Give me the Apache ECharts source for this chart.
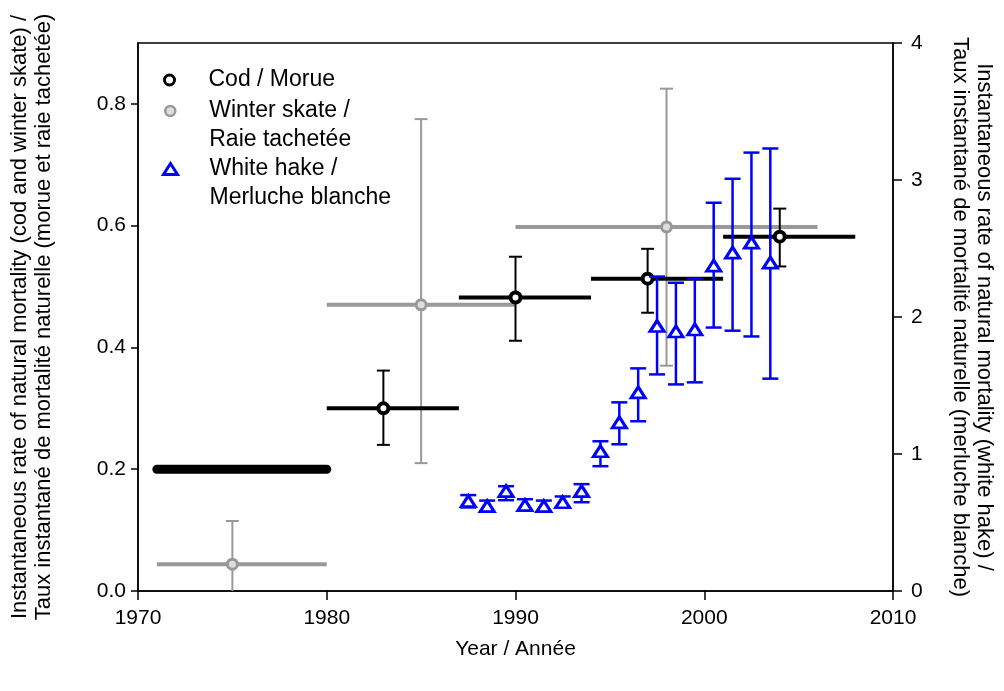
<!DOCTYPE html>
<html>
<head>
<meta charset="utf-8">
<title>Natural mortality</title>
<script src="https://cdn.jsdelivr.net/npm/echarts@6/dist/echarts.min.js"></script>
<style>
    html, body { margin: 0; padding: 0; background: #fff; }
    #main { width: 1004px; height: 691px; }
</style>
</head>
<body>
<div id="main"></div>
<script>
// tick labels
var yearTicks = [1970, 1980, 1990, 2000, 2010];
var leftTicks = [0, 0.2, 0.4, 0.6, 0.8];
var rightTicks = [0, 1, 2, 3, 4];

// cod / morue (left axis), 1971-1980 fixed value
var codFixed = [[1971, 0.2], [1980, 0.2]];
var codYear = [1983, 1990, 1997, 2004];
var codStart = [1980, 1987, 1994, 2001];
var codEnd = [1987, 1994, 2001, 2008];
var codValue = [0.30, 0.482, 0.513, 0.582];
var codLow = [0.24, 0.411, 0.457, 0.533];
var codHigh = [0.362, 0.549, 0.562, 0.628];

// winter skate / raie tachetee (left axis)
var skateYear = [1975, 1985, 1998];
var skateStart = [1971, 1980, 1990];
var skateEnd = [1980, 1990, 2006];
var skateValue = [0.044, 0.47, 0.598];
var skateLow = [0, 0.21, 0.37];
var skateHigh = [0.115, 0.775, 0.825];

// white hake / merluche blanche (right axis)
var hakeYear = [1987.5, 1988.5, 1989.5, 1990.5, 1991.5, 1992.5, 1993.5, 1994.5, 1995.5,
    1996.5, 1997.5, 1998.5, 1999.5, 2000.5, 2001.5, 2002.5, 2003.5];
var hakeValue = [0.656, 0.619, 0.729, 0.627, 0.619, 0.648, 0.729, 1.02, 1.231,
    1.45, 1.934, 1.894, 1.909, 2.375, 2.47, 2.543, 2.397];
var hakeLow = [0.61, 0.58, 0.663, 0.59, 0.58, 0.61, 0.648, 0.911, 1.071,
    1.239, 1.581, 1.508, 1.523, 1.923, 1.90, 1.858, 1.55];
var hakeHigh = [0.70, 0.66, 0.765, 0.67, 0.66, 0.69, 0.78, 1.093, 1.377,
    1.625, 2.295, 2.25, 2.28, 2.834, 3.009, 3.20, 3.23];

var codName = 'Cod / Morue';
var skateName = 'Winter skate /\nRaie tachetée';
var hakeName = 'White hake /\nMerluche blanche';

function zip(year, value, start, end, low, high) {
    var out = [];
    for (var i = 0; i < year.length; i++) {
        out.push([year[i], value[i], start ? start[i] : year[i], end ? end[i] : year[i], low[i], high[i]]);
    }
    return out;
}

// horizontal range + vertical error bar with caps
function errorItem(color, rangeWidth, barWidth, capHalf) {
    return function (params, api) {
        var c = api.coord([api.value(0), api.value(1)]);
        var s = api.coord([api.value(2), api.value(1)]);
        var e = api.coord([api.value(3), api.value(1)]);
        var lo = api.coord([api.value(0), api.value(4)]);
        var hi = api.coord([api.value(0), api.value(5)]);
        var children = [];
        if (e[0] > s[0]) {
            children.push({
                type: 'line',
                shape: { x1: s[0], y1: s[1], x2: e[0], y2: e[1] },
                style: { stroke: color, lineWidth: rangeWidth }
            });
        }
        children.push({
            type: 'line',
            shape: { x1: c[0], y1: lo[1], x2: c[0], y2: hi[1] },
            style: { stroke: color, lineWidth: barWidth }
        });
        children.push({
            type: 'line',
            shape: { x1: c[0] - capHalf, y1: hi[1], x2: c[0] + capHalf, y2: hi[1] },
            style: { stroke: color, lineWidth: barWidth }
        });
        if (api.value(4) > 0) {
            children.push({
                type: 'line',
                shape: { x1: c[0] - capHalf, y1: lo[1], x2: c[0] + capHalf, y2: lo[1] },
                style: { stroke: color, lineWidth: barWidth }
            });
        }
        return { type: 'group', children: children };
    };
}

// two-line legend names: put an empty line first so the marker sits on line one
function firstLineLegend(name) {
    return '\n' + name;
}

var labelFont = 'Liberation Sans, Arial, sans-serif';
var myChart = echarts.init(document.getElementById('main'), null, { renderer: 'canvas' });

option = {
    backgroundColor: '#fff',
    animation: false,
    textStyle: { fontFamily: labelFont },
    grid: {
        left: 137, right: 108, top: 43, bottom: 100,
        show: true, borderColor: '#000', borderWidth: 1.5,
        backgroundColor: 'transparent'
    },
    legend: [{
        left: 163, top: 65.5, padding: 0, selectedMode: false,
        itemWidth: 12, itemHeight: 10,
        textStyle: { fontSize: 23, color: '#000', lineHeight: 29, padding: [0, 0, 0, 28] },
        data: [{ name: codName, itemStyle: { borderWidth: 3 } }]
    }, {
        left: 164, top: 67.5, padding: 0, selectedMode: false,
        itemWidth: 10, itemHeight: 10,
        formatter: firstLineLegend,
        textStyle: { fontSize: 23, color: '#000', lineHeight: 29, padding: [0, 0, 0, 29] },
        data: [{ name: skateName, itemStyle: { borderWidth: 2.5 } }]
    }, {
        left: 162, top: 125.5, padding: 0, selectedMode: false,
        itemWidth: 14, itemHeight: 11,
        formatter: firstLineLegend,
        textStyle: { fontSize: 23, color: '#000', lineHeight: 29, padding: [0, 0, 0, 27] },
        data: [{ name: hakeName, itemStyle: { borderWidth: 3 } }]
    }],
    xAxis: {
        type: 'value', min: 1970, max: 2010, interval: 10,
        name: 'Year / Année', nameLocation: 'middle', nameGap: 48,
        nameTextStyle: { fontSize: 21, color: '#000' },
        axisLine: { onZero: false, lineStyle: { color: '#000', width: 1.5 } },
        axisTick: { length: 9, lineStyle: { color: '#000', width: 1.5 }, customValues: yearTicks },
        axisLabel: {
            fontSize: 21, color: '#000', margin: 17, customValues: yearTicks,
            formatter: function (v) { return String(v); }
        },
        splitLine: { show: false }
    },
    yAxis: [{
        type: 'value', min: 0, max: 0.9, interval: 0.2,
        name: 'Instantaneous rate of natural mortality (cod and winter skate) /\nTaux instantané de mortalité naturelle (morue et raie tachetée)',
        nameLocation: 'middle', nameGap: 82, nameRotate: 90,
        nameTextStyle: { fontSize: 22, color: '#000', lineHeight: 24 },
        axisLine: { onZero: false, lineStyle: { color: '#000', width: 1.5 } },
        axisTick: { length: 7, lineStyle: { color: '#000', width: 1.5 }, customValues: leftTicks },
        axisLabel: {
            fontSize: 21, color: '#000', margin: 12, customValues: leftTicks,
            formatter: function (v) { return v.toFixed(1); }
        },
        splitLine: { show: false }
    }, {
        type: 'value', min: 0, max: 4, interval: 1, position: 'right',
        name: 'Instantaneous rate of natural mortality (white hake) /\nTaux instantané de mortalité naturelle (merluche blanche)',
        nameLocation: 'middle', nameGap: 55, nameRotate: -90,
        nameTextStyle: { fontSize: 22, color: '#000', lineHeight: 24 },
        axisLine: { onZero: false, lineStyle: { color: '#000', width: 1.5 } },
        axisTick: { length: 9, lineStyle: { color: '#000', width: 1.5 }, customValues: rightTicks },
        axisLabel: { fontSize: 21, color: '#000', margin: 18, customValues: rightTicks },
        splitLine: { show: false }
    }],
    series: [{
        name: 'skate ranges',
        type: 'custom',
        yAxisIndex: 0,
        renderItem: errorItem('#999999', 4, 2, 6.5),
        encode: { x: 0, y: 1 },
        data: zip(skateYear, skateValue, skateStart, skateEnd, skateLow, skateHigh),
        z: 2
    }, {
        name: skateName,
        type: 'scatter',
        yAxisIndex: 0,
        symbol: 'circle',
        symbolSize: 10,
        itemStyle: { color: '#dddddd', borderColor: '#999999', borderWidth: 3, opacity: 1 },
        data: skateYear.map(function (y, i) { return [y, skateValue[i]]; }),
        z: 3
    }, {
        name: 'cod fixed',
        type: 'line',
        yAxisIndex: 0,
        showSymbol: false,
        lineStyle: { color: '#000', width: 9, cap: 'round' },
        data: codFixed,
        z: 4
    }, {
        name: 'cod ranges',
        type: 'custom',
        yAxisIndex: 0,
        renderItem: errorItem('#000000', 4, 2, 6.5),
        encode: { x: 0, y: 1 },
        data: zip(codYear, codValue, codStart, codEnd, codLow, codHigh),
        z: 4
    }, {
        name: codName,
        type: 'scatter',
        yAxisIndex: 0,
        symbol: 'circle',
        symbolSize: 10,
        itemStyle: { color: '#ffffff', borderColor: '#000000', borderWidth: 4, opacity: 1 },
        data: codYear.map(function (y, i) { return [y, codValue[i]]; }),
        z: 5
    }, {
        name: 'hake errors',
        type: 'custom',
        yAxisIndex: 1,
        renderItem: errorItem('#0000ff', 2.5, 2.5, 8),
        encode: { x: 0, y: 1 },
        data: zip(hakeYear, hakeValue, null, null, hakeLow, hakeHigh),
        z: 6
    }, {
        name: hakeName,
        type: 'scatter',
        yAxisIndex: 1,
        symbol: 'triangle',
        symbolSize: [14, 11],
        itemStyle: { color: '#ffffff', borderColor: '#0000ff', borderWidth: 3, opacity: 1 },
        data: hakeYear.map(function (y, i) { return [y, hakeValue[i]]; }),
        z: 7
    }]
};
myChart.setOption(option);
</script>
</body>
</html>
